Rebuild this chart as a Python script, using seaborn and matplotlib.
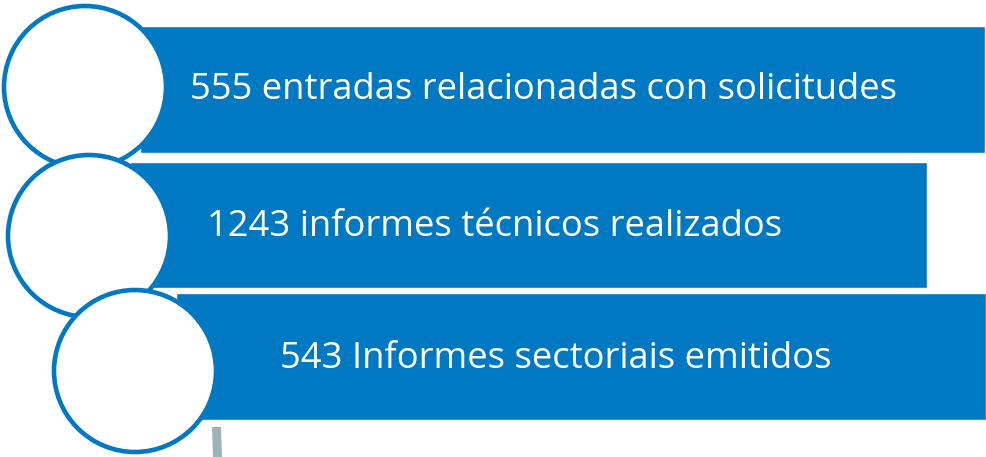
import matplotlib
matplotlib.use("Agg")
import matplotlib.pyplot as plt
from matplotlib.patches import Circle, Polygon
import seaborn as sns

# rows of the infographic (pixel units of the 986x457 picture)
labels = ["555 entradas relacionadas con solicitudes",
          "1243 informes técnicos realizados",
          "543 Informes sectoriais emitidos"]
bar_left = [140, 130, 176]
bar_right = [985, 927, 986]
bar_top = [26, 162, 293]
bar_bottom = [153, 288, 420]
circle_x = [85, 89, 135]
circle_y = [87, 236, 371]
text_x = [190, 207, 280]
text_y = [90, 227, 359]

blue = "#0079C2"
grey = "#9BB4B6"

sns.set_theme(style="white")
plt.rcParams['font.family'] = ['Open Sans', 'DejaVu Sans']

W, H, dpi = 986, 457, 100
fig = plt.figure(figsize=(W / dpi, H / dpi), dpi=dpi)
ax = fig.add_axes([0, 0, 1, 1])
ax.set_xlim(0, W)
ax.set_ylim(H, 0)
ax.axis("off")

r = 81
lw = 4.6 * 72 / dpi
for i, lab in enumerate(labels):
    z = 2 + 2 * i
    ax.barh(y=(bar_top[i] + bar_bottom[i]) / 2, width=bar_right[i] - bar_left[i],
            left=bar_left[i], height=bar_bottom[i] - bar_top[i],
            color=blue, zorder=z)
    ax.add_patch(Circle((circle_x[i], circle_y[i]), r, facecolor="white",
                        edgecolor=blue, lw=lw, zorder=z + 1))
    ax.text(text_x[i], text_y[i], lab, color="white",
            fontsize=26.2, va="center", ha="left", zorder=20)

# small grey connector stub at the bottom
ax.add_patch(Polygon([(212, 427), (221, 427), (222, 457), (213, 457)],
                     closed=True, color=grey, lw=0, zorder=1))

fig.savefig("out.png", dpi=dpi)
